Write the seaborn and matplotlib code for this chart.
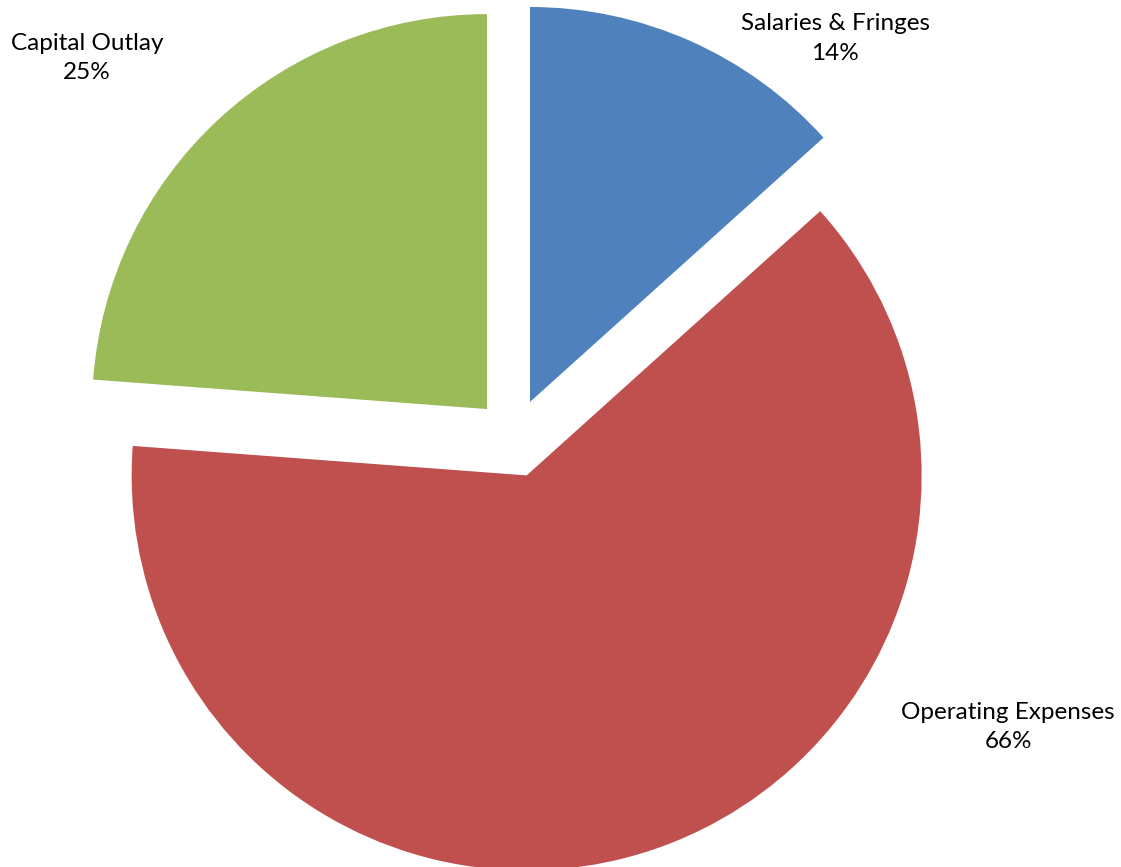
import matplotlib
matplotlib.use("Agg")
import matplotlib.pyplot as plt
import seaborn as sns

# Budget shares by category
categories = ["Salaries & Fringes", "Operating Expenses", "Capital Outlay"]
shares = [14, 66, 25]
colors = ["#4F81BD", "#C0504D", "#9BBB59"]

sns.set_theme(style="white")
plt.rcParams["font.family"] = ["Lato", "DejaVu Sans"]

fig = plt.figure(figsize=(11.21, 8.67), dpi=100)
ax = fig.add_axes([0, 0, 1, 1])

wedges, _ = ax.pie(
    shares,
    colors=colors,
    startangle=90,
    counterclock=False,
    explode=[0.1] * len(shares),
    radius=1.0,
    wedgeprops=dict(linewidth=0),
)

# Category labels with their percentages
label_pos = {
    "Salaries & Fringes": (0.813, 1.012),
    "Operating Expenses": (1.251, -0.731),
    "Capital Outlay": (-1.081, 0.962),
}
for name, val in zip(categories, shares):
    x, y = label_pos[name]
    ax.text(x, y, f"{name}\n{val}%", ha="center", va="center",
            fontsize=17.5, color="#000000", linespacing=1.5)

ax.set_xlim(-1.301, 1.537)
ax.set_ylim(-1.086, 1.109)
ax.set_aspect("auto")
ax.axis("off")

fig.savefig("out.png", dpi=100, facecolor="white")
